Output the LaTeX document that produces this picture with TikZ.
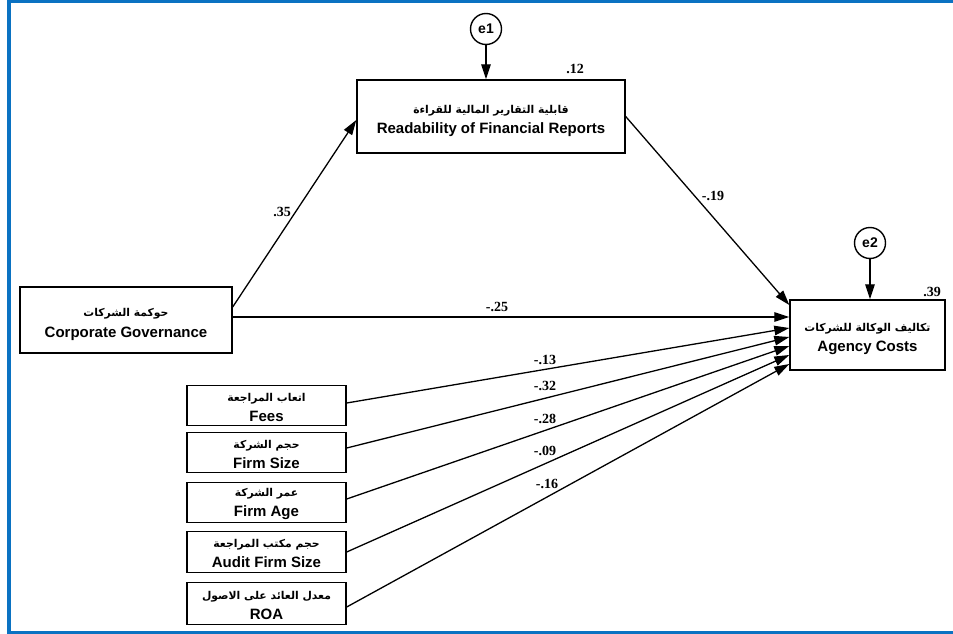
\documentclass[tikz,border=0pt]{standalone}
\usepackage{fontspec}
\setmainfont{Liberation Sans}
\newfontfamily\arabicfont[Script=Arabic]{DejaVu Sans}
\newfontfamily\numfont{Liberation Serif}
\TeXXeTstate=1
\usetikzlibrary{arrows.meta}
\definecolor{frameblue}{HTML}{0A72C2}
\newcommand{\ar}[1]{\rule{0pt}{17pt}{\arabicfont\fontsize{10.8}{12}\selectfont\beginR #1\endR}}
\newcommand{\ars}[1]{\rule{0pt}{12pt}{\arabicfont\fontsize{10.8}{12}\selectfont\beginR #1\endR}}
\begin{document}
\begin{tikzpicture}[x=1pt,y=-1pt,
  box/.style={draw, line width=1.4pt, align=center, inner sep=0pt,
    font=\bfseries\fontsize{15}{17}\selectfont},
  err/.style={draw, circle, line width=1.4pt, minimum size=31pt, inner sep=0pt,
    font=\bfseries\fontsize{14}{16}\selectfont},
  conn/.style={line width=1.3pt, -{Triangle[length=15pt,width=9.5pt]}},
  coef/.style={font=\numfont\bfseries\fontsize{14}{16}\selectfont, inner sep=0pt}]
\useasboundingbox (0,0) rectangle (953,634);
\fill[white] (0,0) rectangle (953,634);
\draw[frameblue, line width=3.5pt] (955,1.5) -- (9,1.5) -- (9,632.5) -- (955,632.5);

% nodes
\node[err] (e1) at (486,29) {e1};
\node[box, minimum width=268pt, minimum height=73pt] (rfr) at (491,116.5)
  {\ar{قابلية التقارير المالية للقراءة}\\[3pt] Readability of Financial Reports};
\node[err] (e2) at (870,243) {e2};
\node[box, minimum width=155pt, minimum height=70pt] (ac) at (867.5,335)
  {\ar{تكاليف الوكالة للشركات}\\[3pt] Agency Costs};
\node[box, minimum width=212pt, minimum height=66pt] (cg) at (126,320)
  {\ar{حوكمة الشركات}\\[4pt] Corporate Governance};
\node[box, minimum width=159pt, minimum height=40pt] (fees) at (266.5,405.5)
  {\ars{اتعاب المراجعة}\\[3pt] Fees};
\node[box, minimum width=159pt, minimum height=40pt] (fs) at (266.5,452.5)
  {\ars{حجم الشركة}\\[3pt] Firm Size};
\node[box, minimum width=159pt, minimum height=40pt] (fa) at (266.5,502.5)
  {\ars{عمر الشركة}\\[3pt] Firm Age};
\node[box, minimum width=159pt, minimum height=41pt] (afs) at (266.5,552)
  {\ars{حجم مكتب المراجعة}\\[3pt] Audit Firm Size};
\node[box, minimum width=159pt, minimum height=42pt] (roa) at (266.5,603.5)
  {\ars{معدل العائد على الاصول}\\[3pt] ROA};

% connectors
\draw[conn] (e1) -- (e1 |- rfr.north);
\draw[conn] (e2) -- (e2 |- ac.north);
\draw[conn] ([yshift=13pt]cg.east) -- ([yshift=-3.5pt]rfr.west);
\draw[conn] (rfr.east) -- ([yshift=30pt]ac.west);
\draw[conn] ([yshift=3pt]cg.east) -- ([yshift=18pt]ac.west);
\draw[conn] ([yshift=2.5pt]fees.east) -- ([yshift=7pt]ac.west);
\draw[conn] ([yshift=4.5pt]fs.east) -- ([yshift=-2pt]ac.west);
\draw[conn] ([yshift=3.5pt]fa.east) -- ([yshift=-11pt]ac.west);
\draw[conn] (afs.east) -- ([yshift=-20pt]ac.west);
\draw[conn] ([yshift=-3.5pt]roa.east) -- ([yshift=-29pt]ac.west);

% coefficients
\node[coef] (r1) at (575,69) {.12};
\node[coef] (r2) at (932,292) {.39};
\node[coef] (c1) at (282,212) {.35};
\node[coef] (c2) at (713,196) {-.19};
\node[coef] (c3) at (497,307) {-.25};
\node[coef] (c4) at (545,360) {-.13};
\node[coef] (c5) at (545,386) {-.32};
\node[coef] (c6) at (545,419) {-.28};
\node[coef] (c7) at (545,451) {-.09};
\node[coef] (c8) at (547,484) {-.16};
\end{tikzpicture}
\end{document}
